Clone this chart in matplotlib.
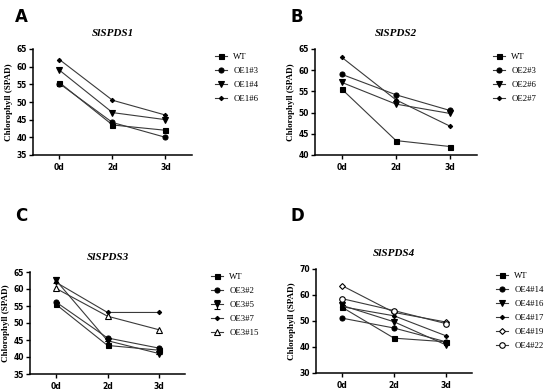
import matplotlib
matplotlib.use("Agg")
import matplotlib.pyplot as plt

days = ["0d", "2d", "3d"]

# panel A
a_labels = ["WT", "OE1#3", "OE1#4", "OE1#6"]
a_wt = [55.5, 43.5, 42.0]
a_oe3 = [55.2, 44.2, 40.0]
a_oe4 = [59.0, 47.0, 45.0]
a_oe6 = [62.0, 50.5, 46.3]

# panel B
b_labels = ["WT", "OE2#3", "OE2#6", "OE2#7"]
b_wt = [55.5, 43.4, 42.0]
b_oe3 = [59.0, 54.2, 50.5]
b_oe6 = [57.1, 52.0, 49.8]
b_oe7 = [63.0, 53.0, 46.8]

# panel C
c_labels = ["WT", "OE3#2", "OE3#5", "OE3#7", "OE3#15"]
c_wt = [55.5, 43.4, 42.0]
c_oe2 = [56.2, 45.6, 42.6]
c_oe5 = [62.6, 44.8, 41.0]
c_oe7 = [62.0, 53.1, 53.1]
c_oe15 = [60.2, 52.0, 48.0]
c_oe5_err = [0.8, 0.0, 0.0]

# panel D
d_labels = ["WT", "OE4#14", "OE4#16", "OE4#17", "OE4#19", "OE4#22"]
d_wt = [55.3, 43.4, 42.0]
d_oe14 = [51.1, 47.3, 42.0]
d_oe16 = [56.0, 49.7, 40.8]
d_oe17 = [55.5, 52.0, 44.3]
d_oe19 = [63.6, 53.3, 49.6]
d_oe22 = [58.6, 54.0, 49.0]

W, H = 550, 392
fig = plt.figure(figsize=(W / 100, H / 100), dpi=100)

SERIF = ["Liberation Serif", "DejaVu Serif"]
LINE = "#3a3a3a"

# marker styles: (marker, size, filled)
STY = {
    "sq": ("s", 3.6, True),
    "ci": ("o", 3.6, True),
    "tv": ("v", 3.8, True),
    "dm": ("D", 2.2, True),
    "tu": ("^", 4.0, False),
    "od": ("D", 3.0, False),
    "oc": ("o", 4.0, False),
}


def box(l, t, r, b):
    return [l / W, 1 - b / H, (r - l) / W, (b - t) / H]


def panel(rect, letter, letter_xy, title, series, styles, labels, ylim, yticks,
          leg_xy, errs=None):
    ax = fig.add_axes(box(*rect))
    x = list(range(len(days)))
    for i, (ys, st, lab) in enumerate(zip(series, styles, labels)):
        m, ms, filled = STY[st]
        yerr = errs[i] if errs and errs[i] is not None else None
        ax.errorbar(x, ys, yerr=yerr, color=LINE, lw=0.8, marker=m, ms=ms,
                    mfc="black" if filled else "white", mec="black", mew=0.8,
                    ecolor="black", elinewidth=0.8, capsize=2, label=lab)
    ax.set_xlim(-0.5, 2.5)
    ax.set_ylim(*ylim)
    ax.set_yticks(yticks)
    ax.set_xticks(x)
    ax.set_xticklabels(days)
    for s in ["top", "right"]:
        ax.spines[s].set_visible(False)
    for s in ["left", "bottom"]:
        ax.spines[s].set_linewidth(1.1)
    ax.tick_params(length=3, width=1.0, labelsize=5.5, pad=1.5)
    ax.tick_params(axis="x", pad=3)
    for t in ax.get_xticklabels() + ax.get_yticklabels():
        t.set_fontweight("bold")
    ax.set_ylabel("Chlorophyll (SPAD)", family=SERIF, fontweight="bold",
                  fontsize=6.5, labelpad=2)
    ax.set_title(title, family=SERIF, fontweight="bold", style="italic",
                 fontsize=8, pad=9)
    fig.text(letter_xy[0] / W, 1 - letter_xy[1] / H, letter, fontsize=12,
             fontweight="bold", va="baseline", ha="left")
    handles, labs = ax.get_legend_handles_labels()
    ax.legend(handles, labs, loc="upper left", frameon=False,
              bbox_to_anchor=(leg_xy[0] / W, 1 - leg_xy[1] / H),
              bbox_transform=fig.transFigure, prop={"family": SERIF, "size": 6.3},
              handlelength=1.4, handletextpad=0.7, labelspacing=0.68,
              borderpad=0, borderaxespad=0)
    return ax


panel((33, 49, 192, 155), "A", (15, 22), "SlSPDS1",
      [a_wt, a_oe3, a_oe4, a_oe6], ["sq", "ci", "tv", "dm"], a_labels,
      (35, 65), range(35, 66, 5), (215, 53))

panel((315, 49, 477, 155), "B", (291, 22), "SlSPDS2",
      [b_wt, b_oe3, b_oe6, b_oe7], ["sq", "ci", "tv", "dm"], b_labels,
      (40, 65), range(40, 66, 5), (493, 53))

panel((30, 272, 185, 374), "C", (15, 221), "SlSPDS3",
      [c_wt, c_oe2, c_oe5, c_oe7, c_oe15], ["sq", "ci", "tv", "dm", "tu"],
      c_labels, (35, 65), range(35, 66, 5), (211, 273),
      errs=[None, None, c_oe5_err, None, None])

panel((316, 269, 472, 373), "D", (291, 221), "SlSPDS4",
      [d_wt, d_oe14, d_oe16, d_oe17, d_oe19, d_oe22],
      ["sq", "ci", "tv", "dm", "od", "oc"], d_labels,
      (30, 70), range(30, 71, 10), (496, 272))

fig.savefig("out.png", dpi=100)
